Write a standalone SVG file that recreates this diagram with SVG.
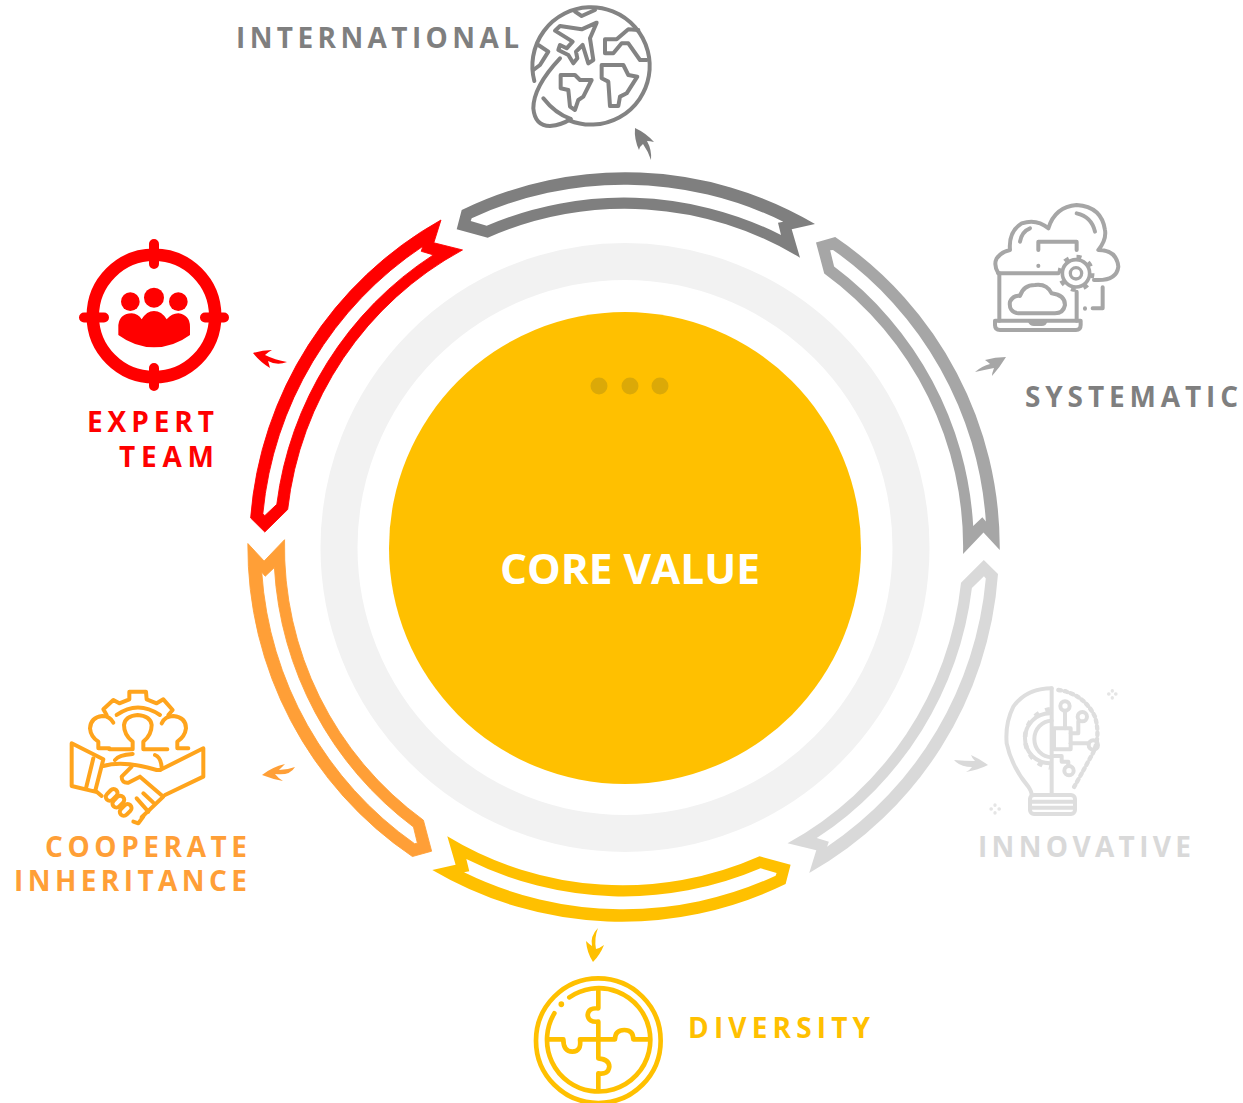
<svg xmlns="http://www.w3.org/2000/svg" width="1243" height="1103" viewBox="0 0 1243 1103">
<style>
.lbl{font-family:"Open Sans","Liberation Sans",sans-serif;font-weight:700;font-size:28px}
.core{font-family:"Open Sans","Liberation Sans",sans-serif;font-weight:700;font-size:41px;fill:#fff}
.ic{fill:none;stroke-linecap:round;stroke-linejoin:round}
</style>
<defs>
<path id="seg" fill-rule="evenodd" d="M461.7,210 A374,374 0 0 1 815,224 L791.7,229.3 L800,257.7 A338,338 0 0 0 487.7,237.7 L456.7,229.3 Z M471.7,218.3 A362,362 0 0 1 783.3,221.7 L778,222.7 L781,235 A349,349 0 0 0 486.7,225.7 L470.7,221 Z"/>
</defs>
<rect width="1243" height="1103" fill="#fff"/>
<g id="core">
<circle cx="625" cy="547.5" r="286" fill="none" stroke="#f2f2f2" stroke-width="37"/>
<circle cx="625" cy="548" r="236" fill="#ffc000"/>
<circle cx="599" cy="386" r="8.5" fill="#dba908"/><circle cx="630" cy="386" r="8.5" fill="#dba908"/><circle cx="660" cy="386" r="8.5" fill="#dba908"/>
<text class="core" x="500" y="584" textLength="260" lengthAdjust="spacingAndGlyphs">CORE VALUE</text>
</g>
<g id="connectors">
<use href="#seg" fill="#7f7f7f"/>
<use href="#seg" fill="#a6a6a6" transform="rotate(60 625 547)"/>
<use href="#seg" fill="#d9d9d9" transform="translate(-.5 0) rotate(120 625 547)"/>
<use href="#seg" fill="#ffc000" transform="translate(-2.7 0) rotate(180 625 547)"/>
<use href="#seg" fill="#ff9f37" stroke="#ff9f37" stroke-width=".8" transform="translate(-2.4 -.4) rotate(240 625 547)"/>
<use href="#seg" fill="#ff0000" stroke="#ff0000" stroke-width=".8" transform="translate(-1 0) rotate(300.3 625 547)"/>
<path fill="#7f7f7f" d="M635,128 Q646,133 654,142 Q650,141 647,141 Q652,150 651,160 Q648,151 643,144 Q640,146 639,150 Q634,139 635,128Z"/>
<path fill="#a6a6a6" d="M1006,357 Q995,357 985,360 Q988,362 990,364 Q982,366 975,372 Q984,370 994,368 Q992,373 992,376 Q1000,367 1006,357Z"/>
<path fill="#d9d9d9" d="M988,765 Q980,759 971,755 Q972,758 975,761 Q965,761 954,760 Q960,767 972,767 Q970,770 966,772 Q978,770 988,765Z"/>
<path fill="#ffc000" d="M598,928 Q590,936 592,946 Q589,944 586,941 Q587,953 593,962 Q600,955 604,945 Q600,948 596,949 Q594,938 598,928Z"/>
<path fill="#ff9f37" d="M262,775 Q272,767 285,764 Q282,767 279,770 Q287,770 295,767 Q290,776 275,774 Q278,778 283,781 Q272,779 262,775Z"/>
<path fill="#ff0000" d="M253,353 Q262,350 272,350 Q268,352 265,355 Q275,360 287,362 Q277,366 268,361 Q269,364 270,368 Q260,362 253,353Z"/>
</g>
<g id="international">
<text class="lbl" x="236" y="48" fill="#7f7f7f" textLength="283" lengthAdjust="spacing">INTERNATIONAL</text>
<g class="ic" stroke="#838383" stroke-width="12" transform="translate(500 0) scale(.3333)">
<path d="M103,243 A176,176 0 1 1 207,361"/>
<path d="M180,175 Q100,260 100,325 Q105,378 150,378 Q185,375 212,357"/>
<path d="M130,295 Q165,340 212,357"/>
<path d="M290,68 L245,88 L180,78 L165,92 L218,125 L200,145 L180,135 L175,150 L205,165 L220,190 L232,175 L228,155 L248,135 L265,190 L280,180 L270,115 Z"/>
<path d="M225,35 L245,48 L285,30"/>
<path d="M115,135 L145,155 L120,195 L100,210"/>
<path d="M415,90 L385,88 L350,118 L315,118 V160 H340 L365,130 H385 L420,180 H440"/>
<path d="M305,195 H370 L385,225 L412,230 L380,280 L360,290 L355,318 H330 L325,245 L305,235 Z"/>
<path d="M182,225 H225 L240,240 H275 L250,290 L235,300 L225,330 L210,320 L205,270 L182,265 Z"/>
</g>
</g>
<g id="systematic">
<text class="lbl" x="1025" y="407" fill="#7f7f7f" textLength="213" lengthAdjust="spacing">SYSTEMATIC</text>
<g class="ic" stroke="#a6a6a6" stroke-width="12" transform="translate(970 190) scale(.3333)">
<path d="M85,250 Q70,225 80,205 Q95,185 120,180 Q115,125 155,100 Q200,85 235,115 Q255,50 320,45 Q395,50 405,120 Q410,150 385,180 Q440,180 445,230 Q440,270 385,270 H372"/>
<path d="M85,250 H265"/>
<path d="M150,155 Q155,125 180,115"/>
<path d="M320,70 Q365,80 375,125"/>
<path d="M205,180 V155 H320 V180"/>
<path d="M205,227 V228"/>
<circle cx="318" cy="250" r="41" stroke-width="11"/>
<circle cx="318" cy="250" r="17" stroke-width="10"/>
<circle cx="318" cy="250" r="50" stroke-width="11" stroke-dasharray="15 24.3" stroke-linecap="butt"/>
<path d="M88,250 V392 M320,305 V392"/>
<path d="M75,392 H332 V405 Q332,420 318,420 H90 Q75,420 75,405 Z"/>
<path d="M180,394 Q183,402 192,402 H215 Q224,402 226,394"/>
<path d="M145,370 Q115,365 120,335 Q130,315 150,318 Q160,285 195,285 Q230,280 245,310 Q285,315 285,345 Q280,370 255,370 Z"/>
<path d="M398,292 V355 H368"/>
<path d="M345,355 V356"/>
</g>
</g>
<g id="innovative">
<text class="lbl" x="978" y="857" fill="#d9d9d9" textLength="213" lengthAdjust="spacing">INNOVATIVE</text>
<g class="ic" stroke="#dedede" stroke-width="12" transform="translate(950 670) scale(.3333)">
<path d="M305,55 Q230,55 190,110 Q165,160 170,220 Q185,290 235,350 Q245,365 245,375"/>
<path d="M305,55 V375"/>
<rect x="240" y="375" width="135" height="57" rx="12"/>
<path d="M240,395 H375 M240,413 H375"/>
<path d="M325,60 Q400,70 435,140 Q455,210 420,265 Q390,320 370,355" stroke-dasharray="8 11" stroke-width="13"/>
<path d="M300,130 A75,75 0 0 0 300,280"/>
<path d="M300,118 A88,88 0 0 0 300,292" stroke-width="14" stroke-dasharray="15 20" stroke-linecap="butt"/>
<path d="M305,152 A52,55 0 0 0 305,262"/>
<rect x="312" y="175" width="50" height="63"/>
<path d="M345,175 V122"/><circle cx="345" cy="108" r="14"/>
<path d="M362,190 H385 V154"/><circle cx="397" cy="140" r="14"/>
<path d="M362,220 H416"/><circle cx="430" cy="225" r="14"/>
<path d="M312,258 H335 V275 H355 V288"/><circle cx="357" cy="302" r="14"/>
<path stroke-width="10" stroke="#e5e5e5" d="M487,62 V63 M487,83 V84 M476,72 H477 M497,72 H498 M135,405 V406 M135,428 V429 M123,417 H124 M147,417 H148"/>
</g>
</g>
<g id="diversity">
<text class="lbl" x="688" y="1038" fill="#ffc000" textLength="182" lengthAdjust="spacing">DIVERSITY</text>
<g class="ic" stroke="#ffc000" stroke-width="14" transform="translate(520 920) scale(.3333)">
<circle cx="235" cy="362" r="187"/>
<path d="M148,232 A155,155 0 1 1 103,280"/>
<path d="M124,252 V253" stroke-width="17"/>
<path d="M235,212 V265 Q205,262 203,285 Q205,308 235,305 V415 Q268,418 268,440 Q265,465 235,460 V512"/>
<path d="M85,358 H130 Q130,395 157,395 Q185,395 180,358 H285 Q285,330 313,330 Q340,330 340,358 H385"/>
</g>
</g>
<g id="cooperate">
<text class="lbl" x="45" y="857" fill="#ff9f37" textLength="202" lengthAdjust="spacing">COOPERATE</text>
<text class="lbl" x="14" y="891" fill="#ff9f37" textLength="233" lengthAdjust="spacing">INHERITANCE</text>
<g class="ic" stroke="#ffa41c" stroke-width="12" transform="translate(60 680) scale(.3333)">
<path d="M140,105 L130,88 L160,60 L178,70 L208,58 V35 H258 L260,58 L290,70 L310,58 L338,90 L325,105"/>
<path d="M170,105 Q233,60 300,105"/>
<path d="M148,208 H218 V185 Q192,165 192,135 Q195,108 233,105 Q272,108 275,135 Q275,165 250,185 V208 H322"/>
<path d="M160,128 Q150,108 127,108 Q92,112 90,145 Q92,170 115,185 V205 H148"/>
<path d="M305,130 Q315,108 340,108 Q378,112 378,145 Q375,170 352,185 V205 H385"/>
<path d="M165,240 Q175,225 218,222 M285,225 Q303,232 305,262"/>
<path d="M35,190 L130,238 L105,335 L35,318 Z"/>
<path d="M100,235 L78,325"/>
<path d="M300,270 L430,205 V290 L315,345"/>
<path d="M130,258 Q190,240 290,270 L300,270"/>
<path d="M215,260 L185,290 Q185,310 205,308 L240,290 L310,350 L245,412"/>
<path d="M110,335 L125,348 M220,425 L235,430 L250,410"/>
<rect x="135" y="333" width="40" height="24" rx="12" transform="rotate(-45 155 345)"/>
<rect x="155" y="353" width="40" height="24" rx="12" transform="rotate(-45 175 365)"/>
<rect x="177" y="378" width="40" height="24" rx="12" transform="rotate(-45 197 390)"/>
<path d="M250,340 L280,368 M230,355 L265,395"/>
</g>
</g>
<g id="expert">
<text class="lbl" x="87" y="432" fill="#ff0000" textLength="127" lengthAdjust="spacing">EXPERT</text>
<text class="lbl" x="119" y="467" fill="#ff0000" textLength="95" lengthAdjust="spacing">TEAM</text>
<circle cx="154" cy="316" r="61.2" fill="none" stroke="#ff0000" stroke-width="12.5"/>
<path d="M154,244 V264 M154,368 V386 M84,317.5 H104 M205,317.5 H224" stroke="#ff0000" stroke-width="10" stroke-linecap="round" fill="none"/>
<g fill="#ff0000" transform="translate(70 230) scale(.3333)">
<circle cx="181" cy="215" r="28"/><circle cx="252" cy="203" r="30"/><circle cx="325" cy="215" r="28"/>
<path d="M145,315 V285 Q150,250 185,250 Q205,252 215,268 Q230,243 252,243 Q275,243 290,268 Q305,250 325,250 Q360,255 360,290 V315 Q310,352 252,352 Q195,352 145,315Z"/>
</g>
</g>
</svg>
